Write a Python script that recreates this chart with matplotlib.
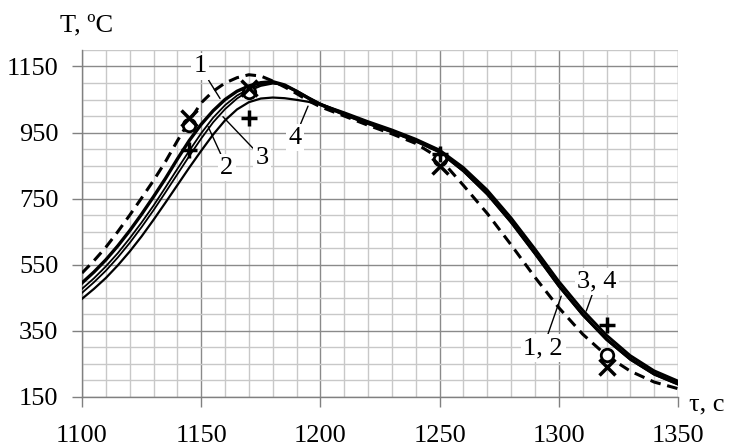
import numpy as np
import matplotlib
matplotlib.use("Agg")
import matplotlib.pyplot as plt
from matplotlib.ticker import MultipleLocator

plt.rcParams['font.family'] = ['Liberation Serif', 'DejaVu Serif']

# time axis, s
tau = [1100, 1105, 1110, 1115, 1120, 1125, 1130, 1135, 1140, 1145, 1150,
       1155, 1160, 1165, 1170, 1175, 1180, 1185, 1190, 1195, 1200, 1210,
       1220, 1230, 1240, 1250, 1260, 1270, 1280, 1290, 1300, 1310, 1320,
       1330, 1340, 1350]

# calculated curves 1..4, oC
T1 = [495, 528, 565, 607, 653, 703, 756, 811, 870, 926, 975,
      1016, 1050, 1075, 1091, 1101, 1104, 1094, 1075, 1054, 1035, 1005,
      978, 953, 925, 892, 835, 765, 680, 585, 487, 400, 325,
      265, 220, 190]
T2 = [477, 509, 545, 585, 630, 678, 729, 784, 840, 895, 948,
      995, 1033, 1062, 1082, 1095, 1100, 1092, 1073, 1052, 1033, 1003,
      976, 951, 923, 890, 832, 762, 677, 582, 484, 397, 322,
      262, 217, 187]
T3 = [465, 497, 532, 572, 616, 664, 715, 769, 824, 879, 932,
      981, 1021, 1053, 1076, 1091, 1098, 1094, 1077, 1057, 1038, 1009,
      982, 957, 929, 896, 842, 774, 690, 596, 498, 411, 335,
      273, 227, 196]
T4 = [447, 477, 510, 548, 590, 636, 686, 738, 791, 844, 895,
      944, 987, 1020, 1042, 1053, 1056, 1054, 1049, 1043, 1036, 1011,
      984, 959, 931, 898, 845, 777, 693, 599, 501, 414, 338,
      276, 230, 199]
# dashed curve
T_d = [525, 562, 603, 650, 700, 752, 805, 862, 925, 985, 1040,
       1075, 1100, 1116, 1125, 1121, 1106, 1088, 1068, 1046, 1028, 1000,
       972, 946, 917, 872, 790, 705, 610, 512, 420, 340, 275,
       228, 195, 175]

# measured points
tau_exp = [1145, 1170, 1250, 1320]
T_cross = [995, 1085, 850, 241]
T_circle = [972, 1072, 870, 277]
T_plus = [898, 993, 885, 368]

fig = plt.figure(figsize=(7.29, 4.46), dpi=100)
ax = fig.add_axes([0.1125, 0.110, 0.8176, 0.778])

ax.plot(tau, T_d, color='black', lw=2.2, ls=(0, (3.5, 2.2)), zorder=3)
ax.plot(tau, T4, color='black', lw=1.6, zorder=3)
ax.plot(tau, T3, color='black', lw=1.3, zorder=3)
ax.plot(tau, T2, color='black', lw=1.3, zorder=3)
ax.plot(tau, T1, color='black', lw=2.4, zorder=3)

ax.plot(tau_exp, T_circle, ls='none', marker='o', ms=9, mfc='white',
        mec='black', mew=2, zorder=4)
ax.plot(tau_exp, T_cross, ls='none', marker='x', ms=11, mec='black',
        mew=2.5, zorder=5)
ax.plot(tau_exp, T_plus, ls='none', marker='+', ms=11, mec='black',
        mew=2.5, zorder=5)

ax.set_xlim(1100, 1350)
ax.set_ylim(150, 1200)
ax.xaxis.set_major_locator(MultipleLocator(50))
ax.xaxis.set_minor_locator(MultipleLocator(10))
ax.set_yticks(np.arange(150, 1151, 200))
ax.yaxis.set_minor_locator(MultipleLocator(50))

ax.grid(which='minor', color='#c8c8c8', lw=1.0)
ax.grid(which='major', color='#8a8a8a', lw=1.0)
ax.set_axisbelow(True)

for s in ['top', 'right']:
    ax.spines[s].set_visible(False)
for s in ['left', 'bottom']:
    ax.spines[s].set_color('#808080')
    ax.spines[s].set_linewidth(1.0)

ax.tick_params(which='major', direction='out', length=7, width=1,
               color='#808080', labelsize=19)
ax.tick_params(axis='x', which='major', pad=13)
ax.tick_params(axis='y', which='major', pad=10)
ax.tick_params(which='minor', length=0)

fig.text(60 / 729, 1 - 25 / 446, 'T, ºC', fontsize=19, va='center', ha='left')
fig.text(689 / 729, 1 - 404 / 446, 'τ, c', fontsize=19, va='center', ha='left')

# curve labels with leader lines
labels = [('1', (1149.5, 1150), (1157.9, 1053)),
          ('2', (1160.8, 844), (1152.9, 968)),
          ('3', (1175.5, 874), (1159.1, 998)),
          ('4', (1189.3, 935), (1194.8, 1030)),
          ('1, 2', (1293.4, 298), (1301.0, 455)),
          ('3, 4', (1316.0, 500), (1311.5, 410))]
for txt, pos, end in labels:
    ax.annotate(txt, xy=end, xytext=pos, fontsize=19, ha='center', va='center',
                bbox=dict(boxstyle='square,pad=0.1', fc='white', ec='none'),
                arrowprops=dict(arrowstyle='-', lw=1, color='black',
                                shrinkA=0, shrinkB=0),
                zorder=6)

fig.savefig('out.png', dpi=100)
